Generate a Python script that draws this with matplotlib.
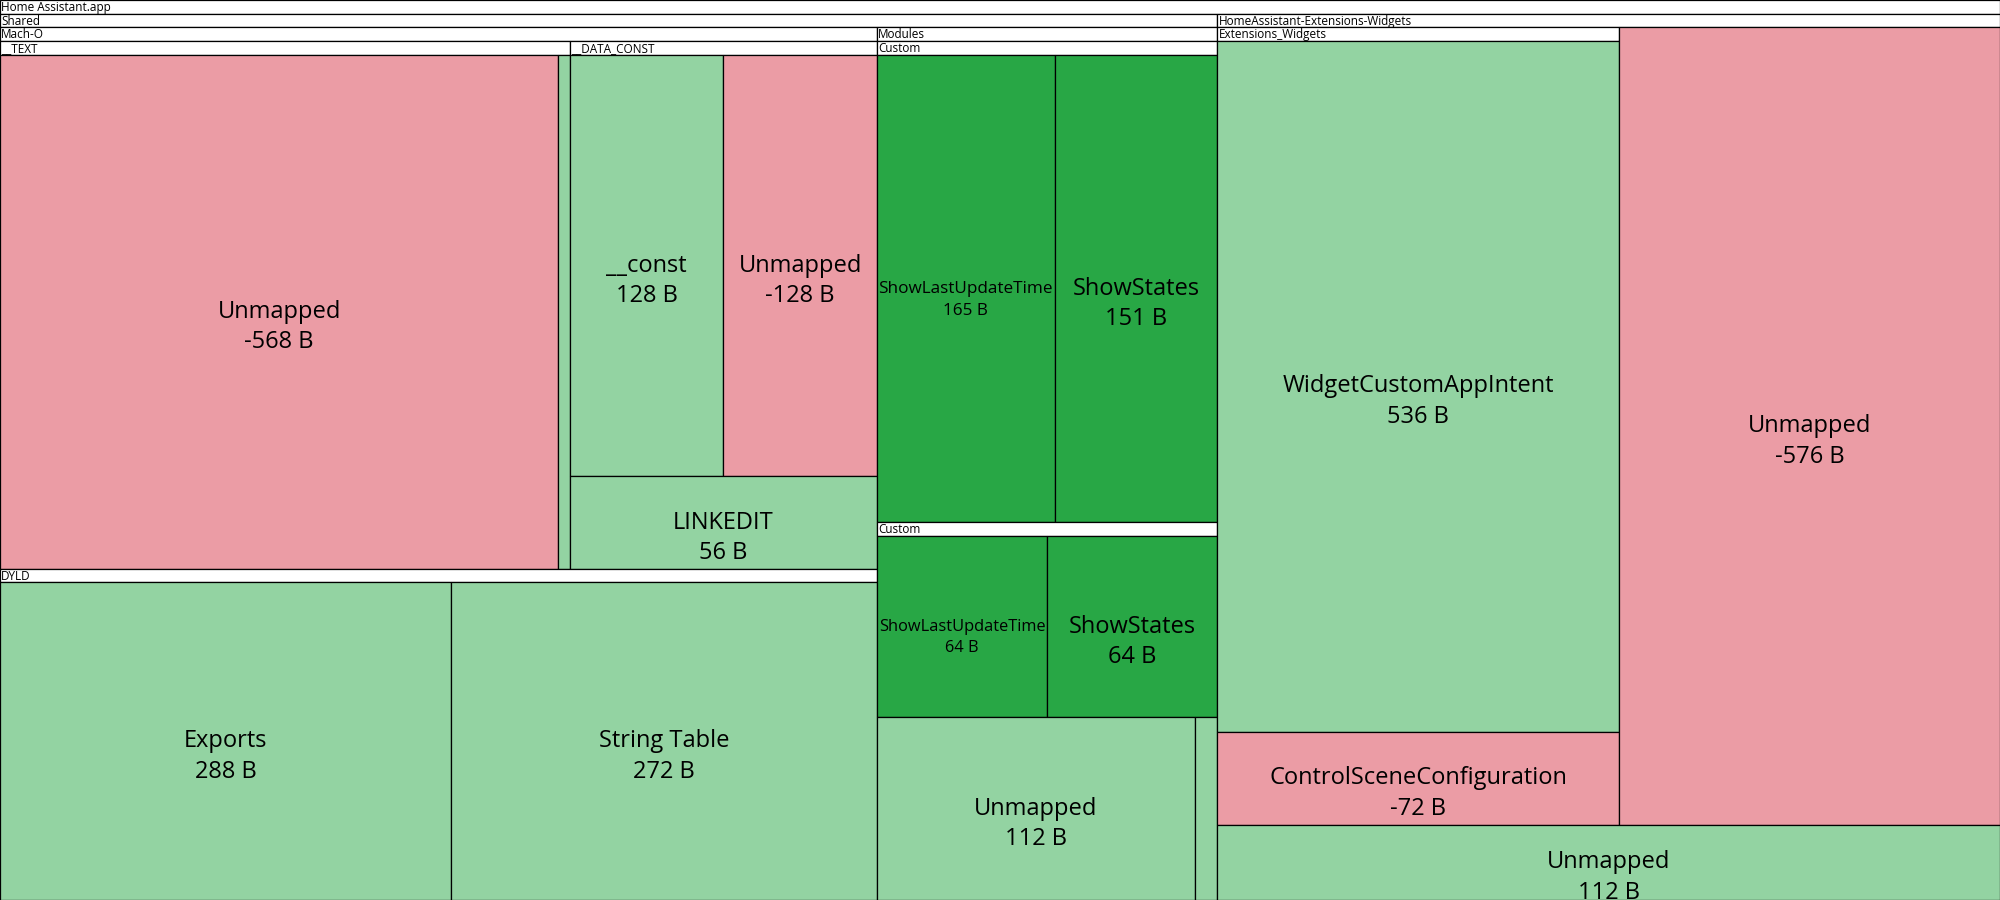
import matplotlib
matplotlib.use("Agg")
import matplotlib.pyplot as plt
from matplotlib.patches import Rectangle

# Size-diff treemap for Home Assistant.app (bytes, area ~ |value|)

ROOT_LABEL = "Home Assistant.app"

# Shared / Mach-O
text_names = ["Unmapped", ""]
text_values = [-568, 12]
data_const_names = ["__const", "Unmapped"]
data_const_values = [128, -128]
linkedit_name = "LINKEDIT"
linkedit_value = 56
dyld_names = ["Exports", "String Table"]
dyld_values = [288, 272]

# Shared / Modules
custom1_names = ["ShowLastUpdateTime", "ShowStates"]
custom1_values = [165, 151]
custom2_names = ["ShowLastUpdateTime", "ShowStates"]
custom2_values = [64, 64]
modules_rest_names = ["Unmapped", ""]
modules_rest_values = [112, 8]

# HomeAssistant-Extensions-Widgets
widgets_names = ["WidgetCustomAppIntent", "ControlSceneConfiguration"]
widgets_values = [536, -72]
ext_rest_names = ["Unmapped", "Unmapped"]
ext_rest_values = [-576, 112]

# styling
W, H = 2000, 900
HEADER = 13.7
LW = 0.9
BASE_FS = 17
HEADER_FS = 8.5
FONT = ["Open Sans", "DejaVu Sans"]
COL_UP = "#93d3a2"
COL_DOWN = "#eb9ca5"
COL_NEW = "#28a745"


def leaves(names, values, status="changed"):
    return [{"name": n, "value": v, "status": status} for n, v in zip(names, values)]


def group(label, split, children):
    return {"label": label, "split": split, "children": children}


tree = group(ROOT_LABEL, "h", [
    group("Shared", "h", [
        group("Mach-O", "v", [
            group(None, "h", [
                group("__TEXT", "h", leaves(text_names, text_values)),
                group("__DATA_CONST", "v", [
                    group(None, "h", leaves(data_const_names, data_const_values)),
                    leaves([linkedit_name], [linkedit_value])[0],
                ]),
            ]),
            group("DYLD", "h", leaves(dyld_names, dyld_values)),
        ]),
        group("Modules", "v", [
            group("Custom", "h", leaves(custom1_names, custom1_values, "added")),
            group("Custom", "h", leaves(custom2_names, custom2_values, "added")),
            group(None, "h", leaves(modules_rest_names, modules_rest_values)),
        ]),
    ]),
    group("HomeAssistant-Extensions-Widgets", "v", [
        group(None, "h", [
            group("Extensions_Widgets", "v", leaves(widgets_names, widgets_values)),
            leaves(ext_rest_names[:1], ext_rest_values[:1])[0],
        ]),
        leaves(ext_rest_names[1:], ext_rest_values[1:])[0],
    ]),
])


def weight(node):
    if "children" in node:
        return sum(weight(c) for c in node["children"])
    return abs(node["value"])


def leaf_color(node):
    if node["value"] < 0:
        return COL_DOWN
    return COL_NEW if node["status"] == "added" else COL_UP


def draw_leaf(ax, renderer, node, x0, y0, x1, y1):
    ax.add_patch(Rectangle((x0, y0), x1 - x0, y1 - y0, facecolor=leaf_color(node),
                           edgecolor="black", linewidth=LW))
    if not node["name"]:
        return
    cx, cy = (x0 + x1) / 2, (y0 + y1) / 2
    t1 = ax.text(cx, cy, node["name"], ha="center", va="center", fontsize=BASE_FS, family=FONT)
    t2 = ax.text(cx, cy, f"{node['value']} B", ha="center", va="center", fontsize=BASE_FS, family=FONT)
    tw = max(t1.get_window_extent(renderer).width, t2.get_window_extent(renderer).width)
    fs = BASE_FS * min(1.0, (x1 - x0 - 4) / tw)
    t1.set_fontsize(fs)
    t2.set_fontsize(fs)
    t2.set_y(cy + 1.3 * fs * 100 / 72)


def draw(ax, renderer, node, x0, y0, x1, y1):
    if "children" not in node:
        draw_leaf(ax, renderer, node, x0, y0, x1, y1)
        return
    if node["label"] is not None:
        ax.add_patch(Rectangle((x0, y0), x1 - x0, HEADER, facecolor="white",
                               edgecolor="black", linewidth=LW))
        ax.text(x0 + 1, y0 + HEADER / 2 + 0.5, node["label"], ha="left", va="center",
                fontsize=HEADER_FS, family=FONT)
        y0 += HEADER
    total = weight(node)
    pos = x0 if node["split"] == "h" else y0
    for child in node["children"]:
        frac = weight(child) / total
        if node["split"] == "h":
            step = (x1 - x0) * frac
            draw(ax, renderer, child, pos, y0, pos + step, y1)
        else:
            step = (y1 - y0) * frac
            draw(ax, renderer, child, x0, pos, x1, pos + step)
        pos += step


fig = plt.figure(figsize=(W / 100, H / 100), dpi=100)
ax = fig.add_axes([0, 0, 1, 1])
ax.set_xlim(0, W)
ax.set_ylim(H, 0)
ax.axis("off")
renderer = fig.canvas.get_renderer()

draw(ax, renderer, tree, 0, 0, W, H)

fig.savefig("out.png", dpi=100)
